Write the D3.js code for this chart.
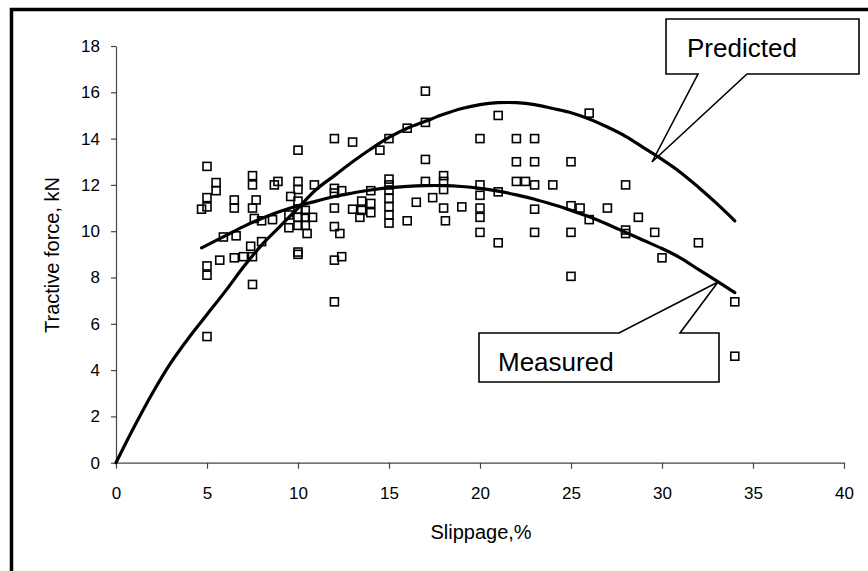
<!DOCTYPE html>
<html>
<head>
<meta charset="utf-8">
<script src="https://cdn.jsdelivr.net/npm/d3@7/dist/d3.min.js"></script>
<style>
  html, body { margin: 0; padding: 0; background: #fff; }
  svg { display: block; }
  text { font-family: "Liberation Sans", Arial, sans-serif; fill: #000; }
</style>
</head>
<body>
<svg id="chart" width="868" height="571"></svg>
<script>
// Field observations: slippage (%) vs tractive force (kN)
const obsSlip = [
  4.7, 5, 5, 5, 5, 5, 5,
  5.5, 5.5, 5.7, 5.9,
  6.5, 6.5, 6.5, 6.6, 7,
  7.5, 7.5, 7.5, 7.4, 7.5, 7.5, 7.7,
  7.6, 8, 8, 8.6, 8.7, 8.9,
  9.6, 9.5, 9.5,
  10, 10, 10, 10, 10, 10, 10, 10, 10,
  10.4, 10.4, 10.4, 10.5, 10.8, 10.9,
  12, 12, 12, 12, 12, 12, 12,
  12.4, 12.3, 12.4,
  13, 13, 13.4, 13.5, 13.5,
  14, 14, 14, 14.5,
  15, 15, 15, 15, 15, 15, 15, 15,
  16, 16, 16.5,
  17, 17, 17, 17, 17.4,
  18, 18, 18, 18, 18.1,
  19,
  20, 20, 20, 20, 20, 20,
  21, 21, 21,
  22, 22, 22, 22.5,
  23, 23, 23, 23, 23,
  24,
  25, 25, 25, 25, 25.5,
  26, 26, 27,
  28, 28, 28, 28.7, 29.6, 30, 32,
  34, 34
];
const obsForce = [
  10.95, 12.8, 11.45, 11.05, 8.5, 8.1, 5.45,
  12.1, 11.75, 8.75, 9.75,
  11.35, 11.0, 8.85, 9.8, 8.9,
  12.4, 12.0, 11.0, 9.35, 8.9, 7.7, 11.35,
  10.55, 10.45, 9.55, 10.5, 12.0, 12.15,
  11.5, 10.7, 10.15,
  13.5, 12.15, 11.8, 11.3, 10.95, 10.6, 10.25, 9.1, 9.0,
  10.9, 10.6, 10.25, 9.9, 10.6, 12.0,
  14.0, 11.85, 11.65, 11.0, 10.2, 8.75, 6.95,
  11.75, 9.9, 8.9,
  13.85, 10.95, 10.6, 11.3, 10.9,
  11.75, 11.2, 10.8, 13.5,
  14.0, 12.25, 12.0, 11.78, 11.42, 11.06, 10.7, 10.35,
  14.45, 10.45, 11.25,
  16.05, 14.7, 13.1, 12.15, 11.45,
  12.4, 12.15, 11.8, 11.0, 10.45,
  11.05,
  14.0, 12.0, 11.55, 11.0, 10.6, 9.95,
  15.0, 11.7, 9.5,
  14.0, 13.0, 12.15, 12.15,
  14.0, 13.0, 12.0, 10.95, 9.95,
  12.0,
  13.0, 11.1, 9.95, 8.05, 11.0,
  15.1, 10.5, 11.0,
  12.0, 10.05, 9.9, 10.6, 9.95, 8.85, 9.5,
  6.95, 4.6
];

// Model curve (Predicted)
const predSlip  = [0, 1, 2, 3, 4, 5, 6, 7, 8, 9, 10, 11, 12, 13, 14, 15, 16, 17,
                   18, 19, 20, 21, 22, 23, 24, 25, 26, 27, 28, 29, 30, 31, 32, 33, 34];
const predForce = [0, 1.55, 3.0, 4.3, 5.4, 6.4, 7.4, 8.45, 9.4, 10.2, 11.0, 11.8, 12.4, 13.0, 13.55, 14.05, 14.45, 14.75,
                   15.05, 15.3, 15.47, 15.55, 15.55, 15.47, 15.3, 15.12, 14.85, 14.5, 14.1, 13.6, 13.1, 12.55, 11.9, 11.2, 10.45];

// Fitted trend of the field data (Measured)
const measSlip  = [4.7, 5, 6, 7, 8, 9, 10, 11, 12, 13, 14, 15, 16, 17, 18, 19,
                   20, 21, 22, 23, 24, 25, 26, 27, 28, 29, 30, 31, 32, 33, 34];
const measForce = [9.28, 9.4, 9.8, 10.2, 10.55, 10.85, 11.1, 11.3, 11.5, 11.65, 11.78, 11.88, 11.94, 11.97, 11.97, 11.93,
                   11.85, 11.73, 11.57, 11.38, 11.15, 10.9, 10.62, 10.3, 9.95, 9.6, 9.25, 8.85, 8.35, 7.85, 7.35];

const xTicks = [0, 5, 10, 15, 20, 25, 30, 35, 40];
const yTicks = [0, 2, 4, 6, 8, 10, 12, 14, 16, 18];

const xTitle = "Slippage,%";
const yTitle = "Tractive force, kN";
const predLabel = "Predicted";
const measLabel = "Measured";

const svg = d3.select("#chart");

const x = d3.scaleLinear().domain([0, 40]).range([116, 844]);
const y = d3.scaleLinear().domain([0, 18]).range([462.7, 46]);

// outer frame (top and left edges)
svg.append("path")
  .attr("d", "M11.5,571 V9.5 H868")
  .attr("fill", "none")
  .attr("stroke", "#000")
  .attr("stroke-width", 3.5);

// axes
const yAxis = svg.append("g")
  .attr("transform", `translate(${x(0)},0)`)
  .call(d3.axisLeft(y).tickValues(yTicks).tickSize(5).tickSizeOuter(0).tickPadding(11).tickFormat(d3.format("d")));
const xAxis = svg.append("g")
  .attr("transform", `translate(0,${y(0)})`)
  .call(d3.axisBottom(x).tickValues(xTicks).tickSize(6).tickSizeOuter(0).tickPadding(18).tickFormat(d3.format("d")));

[xAxis, yAxis].forEach(g => {
  g.select(".domain").attr("stroke", "#444").attr("stroke-width", 1.2);
  g.selectAll(".tick line").attr("stroke", "#444").attr("stroke-width", 1.2);
  g.selectAll(".tick text")
    .attr("fill", "#000")
    .style("font-family", '"Liberation Sans", Arial, sans-serif')
    .style("font-size", "17px");
});

// axis titles
svg.append("text")
  .attr("x", 481).attr("y", 539)
  .attr("text-anchor", "middle")
  .style("font-size", "20px")
  .text(xTitle);
svg.append("text")
  .attr("transform", "translate(59,255) rotate(-90)")
  .attr("text-anchor", "middle")
  .style("font-size", "20px")
  .text(yTitle);

// callout boxes
function callout(box, baseA, baseB, tip, label, tx, ty, onTop) {
  const [x0, y0, x1, y1] = box;
  let pts;
  if (onTop) {
    pts = [[x0, y0], [baseA, y0], tip, [baseB, y0], [x1, y0], [x1, y1], [x0, y1]];
  } else {
    pts = [[x0, y0], [x1, y0], [x1, y1], [baseB, y1], tip, [baseA, y1], [x0, y1]];
  }
  svg.append("path")
    .attr("d", d3.line()(pts) + "Z")
    .attr("fill", "#fff")
    .attr("stroke", "#000")
    .attr("stroke-width", 1.6)
    .attr("stroke-linejoin", "miter");
  svg.append("text")
    .attr("x", tx).attr("y", ty)
    .style("font-size", "26px")
    .text(label);
}

// Predicted callout points at the model curve near x = 29.5
callout([666, 19, 859, 74], 698, 747, [652, 162], predLabel, 687, 57, false);
// Measured callout points at the trend curve near x = 33
callout([479, 333, 719, 382], 619, 680, [718, 282], measLabel, 498, 371, true);

// curves
const line = d3.line().x(d => x(d[0])).y(d => y(d[1])).curve(d3.curveCatmullRom.alpha(0.5));

[[predSlip, predForce], [measSlip, measForce]].forEach(([xs, ys]) => {
  svg.append("path")
    .datum(xs.map((s, i) => [s, ys[i]]))
    .attr("d", line)
    .attr("fill", "none")
    .attr("stroke", "#000")
    .attr("stroke-width", 3.2)
    .attr("stroke-linecap", "round")
    .attr("stroke-linejoin", "round");
});

// observation markers
const sq = 8;
svg.append("g")
  .selectAll("rect")
  .data(obsSlip.map((s, i) => [s, obsForce[i]]))
  .join("rect")
  .attr("x", d => x(d[0]) - sq / 2)
  .attr("y", d => y(d[1]) - sq / 2)
  .attr("width", sq)
  .attr("height", sq)
  .attr("fill", "none")
  .attr("stroke", "#000")
  .attr("stroke-width", 1.6);
</script>
</body>
</html>
